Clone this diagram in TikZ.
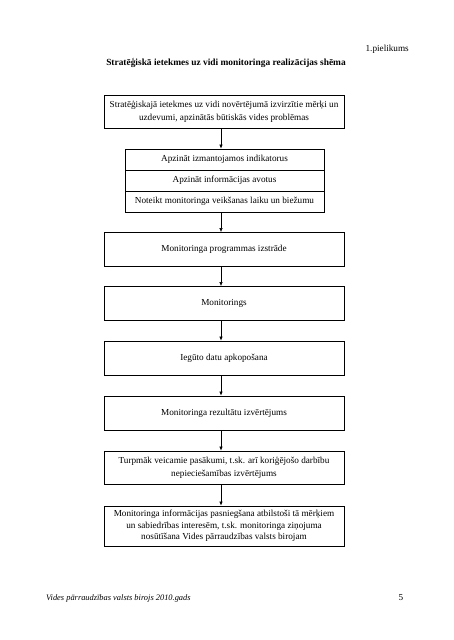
\documentclass[tikz,border=0pt]{standalone}
\usepackage{fontspec}
\setmainfont{Liberation Serif}
\usetikzlibrary{arrows.meta}

\tikzset{
	box/.style = {draw, line width=0.8pt, minimum width=240pt, minimum height=34pt, align=center, inner sep=2pt},
	rowbox/.style = {draw, line width=0.8pt, minimum width=199pt, minimum height=21pt, inner sep=1pt},
	arr/.style = {-{Latex[length=4pt,width=3.5pt]}, line width=0.6pt}
}

\begin{document}
\begin{tikzpicture}[x=1pt,y=-1pt,font=\fontsize{9.2}{12.8}\selectfont]
				\useasboundingbox (0,0) rectangle (453,640);
				
				\node (num) at (409,49) [anchor=east, inner sep=0pt]{1.pielikums};
				\node (title) at (226,63) [font=\fontsize{9.4}{12}\selectfont\bfseries]{Stratēģiskā ietekmes uz vidi monitoringa realizācijas shēma};
				
				\node[box, minimum height=33pt] (merki) at (224,111.5) {Stratēģiskajā ietekmes uz vidi novērtējumā izvirzītie mērķi un\\ uzdevumi, apzinātās būtiskās vides problēmas};
				
				\node[rowbox] (indik) at (224.5,159.5) {Apzināt izmantojamos indikatorus};
				\node[rowbox] (avoti) at (224.5,180.5) {Apzināt informācijas avotus};
				\node[rowbox] (laiks) at (224.5,201.5) {Noteikt monitoringa veikšanas laiku un biežumu};
				
				\node[box] (progr) at (224,249.5) {Monitoringa programmas izstrāde};
				\node[box] (monit) at (224,303.5) {Monitorings};
				\node[box] (apkop) at (224,358) {Iegūto datu apkopošana};
				\node[box] (rezult) at (224,413) {Monitoringa rezultātu izvērtējums};
				\node[box, minimum height=33pt] (pasak) at (224,467.5) {Turpmāk veicamie pasākumi, t.sk. arī koriģējošo darbību\\ nepieciešamības izvērtējums};
				\node[box, minimum height=40pt, font=\fontsize{9.2}{11.5}\selectfont] (info) at (224,526) {Monitoringa informācijas pasniegšana atbilstoši tā mērķiem\\ un sabiedrības interesēm, t.sk. monitoringa ziņojuma\\ nosūtīšana Vides pārraudzības valsts birojam};
				
				\draw[arr] ([xshift=-3pt]merki.south) -- ([xshift=-3.5pt]indik.north);
				\draw[arr] ([xshift=-3.5pt]laiks.south) -- ([xshift=-3pt]progr.north);
				\draw[arr] ([xshift=-3pt]progr.south) -- ([xshift=-3pt]monit.north);
				\draw[arr] ([xshift=-3pt]monit.south) -- ([xshift=-3pt]apkop.north);
				\draw[arr] ([xshift=-3pt]apkop.south) -- ([xshift=-3pt]rezult.north);
				\draw[arr] ([xshift=-3pt]rezult.south) -- ([xshift=-3pt]pasak.north);
				\draw[arr] ([xshift=-3pt]pasak.south) -- ([xshift=-3pt]info.north);
				
				\node (foot) at (46,598) [anchor=west, inner sep=0pt, font=\fontsize{8.4}{12}\selectfont\itshape]{Vides pārraudzības valsts birojs 2010.gads};
				\node (page) at (401,598) {5};
			\end{tikzpicture}
\end{document}
